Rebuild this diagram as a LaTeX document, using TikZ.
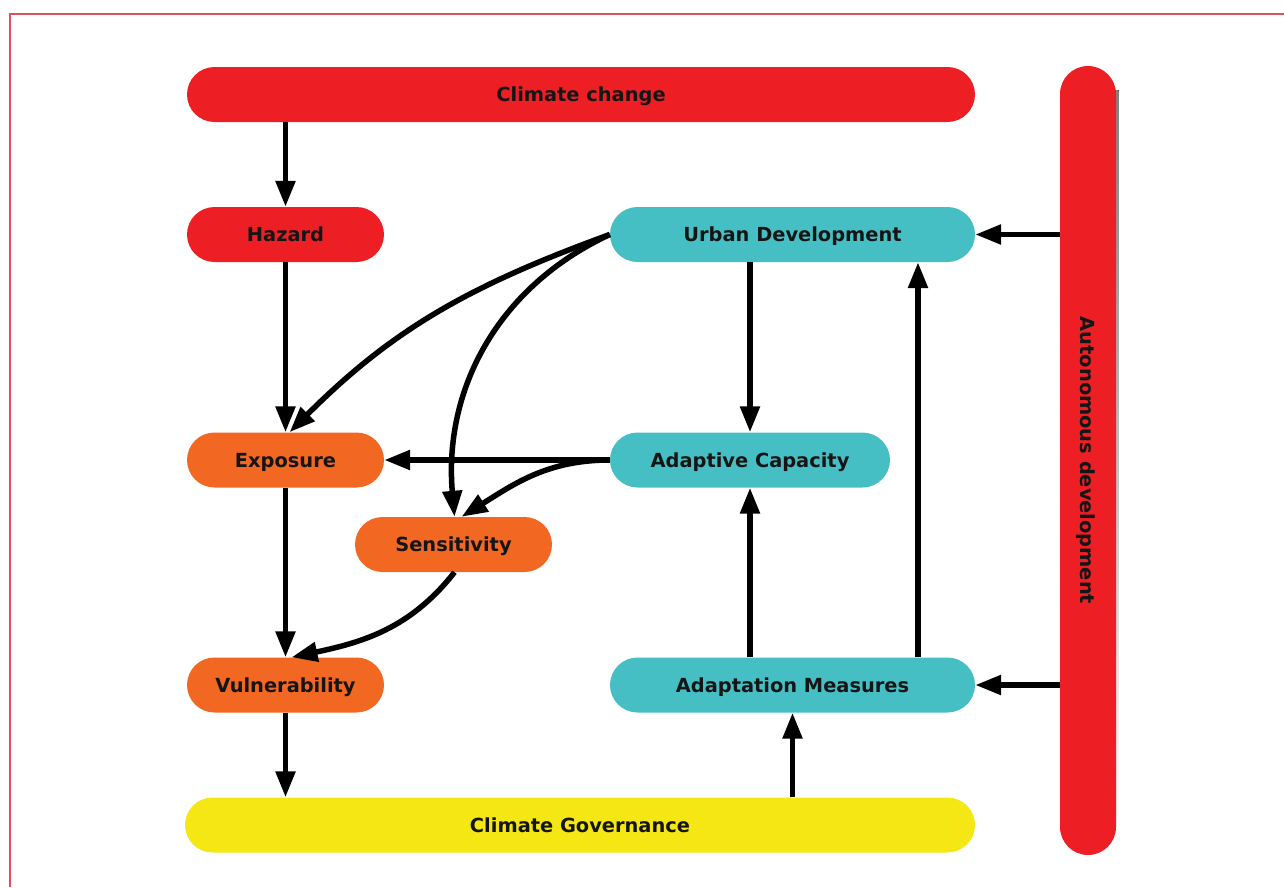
\documentclass[tikz,border=0pt]{standalone}
\usepackage{fontspec}
\setmainfont{DejaVu Sans}
\usetikzlibrary{arrows.meta}
\definecolor{cred}{HTML}{ED1F24}
\definecolor{corange}{HTML}{F26722}
\definecolor{cteal}{HTML}{45BFC4}
\definecolor{cyellow}{HTML}{F4E713}
\definecolor{framered}{HTML}{E0505A}
\definecolor{shade}{HTML}{F8B4A2}
\definecolor{ink}{HTML}{151515}
\begin{document}
\begin{tikzpicture}[x=1pt,y=1pt,
  pill/.style={rectangle, rounded corners=27.5pt, minimum height=55pt,
    inner sep=0pt, text=ink, text height=14.2pt, text depth=0pt,
    font=\fontsize{19.4}{23}\selectfont\bfseries},
  flow/.style={line width=5.5pt, black, -{Triangle[length=26pt,width=19pt]}}]
\useasboundingbox (0,0) rectangle (1284,-887);

% page frame (top and left edges)
\draw[framered, line width=1.5pt] (10,-887) -- (10,-14) -- (1284,-14);

% soft edge on the right side of the vertical bar
\fill[shade] (1112,-90) rectangle (1118.5,-830);

% boxes
\node[pill, fill=cred, minimum width=788pt] (cc) at (581,-94.5) {Climate change};
\node[pill, fill=cred, minimum width=197pt] (haz) at (285.5,-234.5) {Hazard};
\node[pill, fill=corange, minimum width=197pt] (exp) at (285.5,-460) {Exposure};
\node[pill, fill=corange, minimum width=197pt] (sen) at (453.5,-544.5) {Sensitivity};
\node[pill, fill=corange, minimum width=197pt] (vul) at (285.5,-685) {Vulnerability};
\node[pill, fill=cyellow, minimum width=790pt] (gov) at (580,-825) {Climate Governance};
\node[pill, fill=cteal, minimum width=365pt] (ud) at (792.5,-234.5) {Urban Development};
\node[pill, fill=cteal, minimum width=280pt] (ac) at (750,-460) {Adaptive Capacity};
\node[pill, fill=cteal, minimum width=365pt] (am) at (792.5,-685) {Adaptation Measures};
\node[pill, fill=cred, rotate=-90, minimum width=789pt, minimum height=56pt,
  rounded corners=28pt] (auto) at (1088,-460.5) {Autonomous development};

% straight links
\draw[flow] (cc.south -| haz) -- (haz.north);
\draw[flow] (haz.south) -- (exp.north);
\draw[flow] (exp.south) -- (vul.north);
\draw[flow] (vul.south) -- (vul.south |- gov.north);
\draw[flow] (gov.north -| am.south) -- (am.south);
\draw[flow] (am.north -| ac) -- (ac.south);
\draw[flow] ([xshift=125.5pt]am.north) -- ([xshift=125.5pt]ud.south);
\draw[flow] (ud.south -| ac) -- (ac.north);
\draw[flow] (auto.south |- ud) -- (ud.east);
\draw[flow] (auto.south |- am) -- (am.east);
\draw[flow] (ac.west) -- (exp.east);

% curved links
\draw[flow] (ud.west) to[out=200,in=45] ([xshift=4pt]exp.north);
\draw[flow] (ud.west) to[out=205,in=95] ([xshift=1pt]sen.north);
\draw[flow] (ac.west) to[out=180,in=32] ([xshift=8pt]sen.north);
\draw[flow] ([xshift=1pt]sen.south) to[out=232,in=12] ([xshift=6pt]vul.north);
\end{tikzpicture}
\end{document}
